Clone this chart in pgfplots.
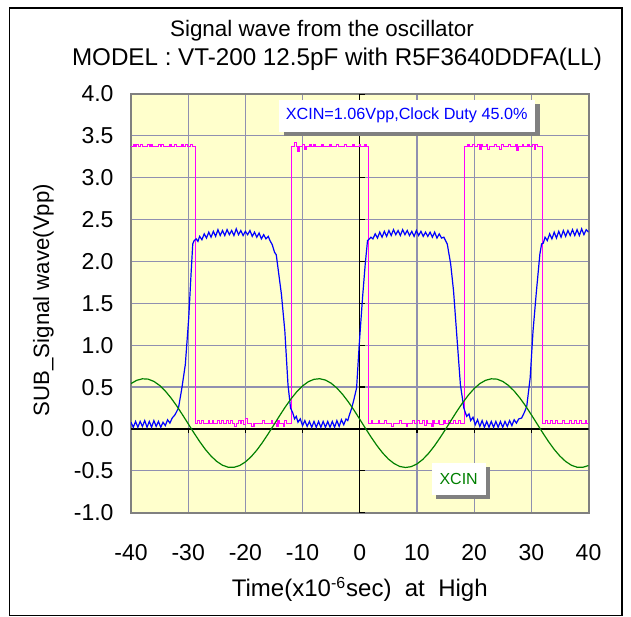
\documentclass[border=0pt]{standalone}
\usepackage{fontspec}
\setmainfont{Liberation Sans}
\usepackage{pgfplots}
\pgfplotsset{compat=1.18}
\definecolor{bgc}{HTML}{FFFFCC}
\definecolor{gridc}{HTML}{9090B0}
\definecolor{framec}{HTML}{808080}
\definecolor{shadowc}{HTML}{808080}
\definecolor{mag}{HTML}{FF00FF}
\definecolor{blu}{HTML}{0000FF}
\definecolor{grn}{HTML}{008000}
\begin{document}
\begin{tikzpicture}
\useasboundingbox (0,0) rectangle (315.5pt,308pt);
\draw[black, line width=0.6pt] (4.75pt,0.3pt) rectangle (311pt,304pt);
\node[anchor=base, font=\fontsize{11.2}{13}\selectfont] at (161pt,289.5pt) {Signal wave from the oscillator};
\node[anchor=base, font=\fontsize{12.1}{14}\selectfont] at (168.5pt,275pt) {MODEL : VT-200 12.5pF with R5F3640DDFA(LL)};
\begin{axis}[
  at={(65.5pt,51.65pt)}, anchor=south west,
  width=228.75pt, height=209.35pt, scale only axis,
  xmin=-40, xmax=40, ymin=-1, ymax=4,
  xtick={-40,-30,...,40}, ytick={-1,-0.5,...,4},
  grid=major, major grid style={color=gridc, line width=0.6pt},
  axis line style={draw=framec, line width=1pt},
  axis background/.style={fill=bgc},
  major tick length=0pt, tick style={draw=none},
  /pgf/number format/assume math mode=true,
  ticklabel style={font=\fontsize{11.5}{13}\selectfont},
  y tick label style={/pgf/number format/.cd, fixed, fixed zerofill, precision=1, /tikz/.cd, xshift=-5.2pt},
  x tick label style={yshift=-12.3pt},
  xlabel={Time(x10\textsuperscript{-6}sec)\ \ at\ \ High},
  xlabel style={at={(axis description cs:0.5,-0.2013)}, anchor=base, font=\fontsize{12}{14}\selectfont},
  ylabel={SUB\_Signal wave(Vpp)},
  ylabel style={at={(axis description cs:-0.179,0.508)}, anchor=base, font=\fontsize{11.1}{13}\selectfont},
  clip=true,
]
% zero lines with tick marks
\draw[black, line width=0.6pt] (axis cs:-40,0) -- (axis cs:40,0);
\draw[black, line width=0.6pt] (axis cs:0,-1) -- (axis cs:0,4);
\pgfplotsinvokeforeach{-30,-20,-10,10,20,30}{\draw[black, line width=0.6pt] (axis cs:#1,0) -- ++(0pt,-2.2pt);}
\pgfplotsinvokeforeach{-1,-0.5,0.5,1,1.5,2,2.5,3,3.5,4}{\draw[black, line width=0.6pt] (axis cs:0,#1) -- ++(2.5pt,0pt);}
% clock (magenta)
\addplot[mag, line width=0.55pt, const plot, mark=none] coordinates {
(-40.0,3.37)(-39.6,3.40)(-39.3,3.37)(-39.0,3.40)(-38.7,3.37)(-38.3,3.40)(-38.0,3.37)(-37.1,3.40)(-36.8,3.37)(-36.5,3.40)(-36.2,3.37)(-35.2,3.40)(-34.9,3.37)(-34.6,3.40)(-34.3,3.37)(-33.3,3.40)(-33.0,3.37)(-32.4,3.40)(-32.1,3.37)(-31.2,3.40)(-30.9,3.37)(-30.4,3.40)(-30.1,3.37)(-29.6,3.40)(-29.3,3.37)
(-28.8,0.07)(-28.3,0.10)(-28.0,0.07)(-27.6,0.10)(-27.3,0.07)(-26.5,0.10)(-26.2,0.07)(-25.8,0.10)(-25.5,0.07)(-24.9,0.10)(-24.6,0.07)(-24.2,0.10)(-23.9,0.07)(-23.3,0.10)(-23.0,0.07)(-22.6,0.10)(-22.3,0.07)(-21.9,0.03)(-21.6,0.07)(-21.2,0.10)(-20.9,0.07)(-20.6,0.10)(-20.3,0.05)(-20.0,0.12)(-19.7,0.07)(-19.0,0.03)(-18.5,0.06)(-17.0,0.10)(-16.7,0.06)(-15.5,0.10)(-15.2,0.06)(-14.6,0.03)(-14.3,0.10)(-14.0,0.06)(-13.4,0.03)(-13.1,0.10)(-12.8,0.06)
(-12.0,3.37)(-11.4,3.42)(-11.1,3.37)(-10.8,3.32)(-10.5,3.37)(-10.0,3.40)(-9.7,3.34)(-9.4,3.37)(-8.7,3.40)(-8.4,3.37)(-8.0,3.40)(-7.7,3.37)(-6.6,3.40)(-6.3,3.37)(-5.2,3.40)(-4.9,3.37)(-4.0,3.40)(-3.7,3.37)(-2.6,3.40)(-2.3,3.37)(-1.3,3.40)(-1.0,3.37)(-0.1,3.40)(0.2,3.37)(0.8,3.40)(1.1,3.37)
(1.5,0.07)(2.0,0.10)(2.3,0.07)(3.2,0.10)(3.5,0.07)(4.4,0.10)(4.7,0.07)(5.6,0.03)(5.9,0.07)(7.0,0.10)(7.3,0.07)(8.1,0.03)(8.4,0.07)(9.2,0.10)(9.5,0.07)(10.1,0.10)(10.4,0.07)(11.0,0.10)(11.3,0.04)(11.6,0.10)(11.9,0.07)(12.5,0.03)(12.8,0.10)(13.1,0.07)(13.7,0.10)(14.0,0.05)(14.6,0.10)(14.9,0.07)(15.5,0.10)(15.8,0.07)(16.4,0.10)(16.7,0.07)(17.3,0.10)(17.6,0.07)
(18.35,3.37)(18.8,3.40)(19.1,3.37)(19.7,3.40)(20.0,3.37)(20.6,3.40)(20.9,3.34)(21.2,3.40)(21.5,3.37)(22.1,3.40)(22.4,3.34)(22.7,3.37)(23.6,3.40)(23.9,3.37)(24.5,3.34)(24.8,3.40)(25.1,3.37)(26.0,3.40)(26.3,3.37)(27.2,3.40)(27.5,3.33)(27.8,3.37)(28.4,3.40)(28.7,3.37)(29.3,3.40)(29.6,3.37)(30.2,3.40)(30.5,3.34)(30.8,3.40)(31.1,3.37)
(31.9,0.07)(32.5,0.10)(32.8,0.07)(33.4,0.10)(33.7,0.07)(34.3,0.10)(34.6,0.07)(35.5,0.10)(35.8,0.07)(36.7,0.10)(37.0,0.07)(37.6,0.10)(37.9,0.07)(38.5,0.10)(38.8,0.07)(39.4,0.10)(39.7,0.07)(40.0,0.07)
};
% SUB signal (blue)
\addplot[blu, line width=0.6pt, mark=none] coordinates {
(-40.0,0.08)(-39.6,0.02)(-39.2,0.09)(-38.8,0.02)(-38.4,0.09)(-38.0,0.03)(-37.6,0.10)(-37.2,0.02)(-36.8,0.09)(-36.4,0.02)(-36.0,0.10)(-35.6,0.03)(-35.2,0.09)(-34.8,0.02)(-34.4,0.08)(-34.0,0.04)(-33.6,0.11)(-33.2,0.07)(-32.8,0.13)(-32.3,0.17)
(-31.7,0.25)(-31.1,0.49)(-30.5,0.77)(-29.9,1.33)(-29.5,1.85)(-29.2,2.21)(-28.95,2.25)(-28.6,2.27)(-28.3,2.24)(-28.0,2.30)(-27.6,2.26)(-27.2,2.33)(-26.8,2.28)(-26.4,2.35)(-26.0,2.29)(-25.6,2.36)(-25.2,2.30)(-24.8,2.38)(-24.4,2.31)(-24.0,2.37)(-23.6,2.31)(-23.2,2.38)(-22.8,2.32)(-22.4,2.37)(-22.0,2.31)(-21.6,2.39)(-21.2,2.32)(-20.8,2.37)(-20.4,2.31)(-20.0,2.36)(-19.6,2.32)(-19.2,2.37)(-18.8,2.30)(-18.4,2.35)(-18.0,2.29)(-17.6,2.34)(-17.2,2.27)(-16.8,2.32)(-16.4,2.27)(-16.0,2.30)
(-15.7,2.25)(-15.3,2.20)(-14.9,2.11)(-14.6,2.08)(-13.7,1.61)(-13.1,1.17)(-12.55,0.53)(-12.1,0.25)(-11.7,0.19)(-11.4,0.12)(-11.1,0.15)(-10.8,0.08)(-10.4,0.12)(-10.0,0.04)(-9.6,0.10)(-9.2,0.03)(-8.8,0.09)(-8.4,0.02)(-8.0,0.09)(-7.6,0.02)(-7.2,0.09)(-6.8,0.02)(-6.4,0.09)(-6.0,0.02)(-5.6,0.09)(-5.2,0.02)(-4.8,0.09)(-4.4,0.02)(-4.0,0.10)(-3.6,0.03)(-3.2,0.11)(-2.8,0.05)(-2.4,0.12)(-2.1,0.10)(-1.8,0.17)
(-1.4,0.25)(-0.96,0.37)(-0.55,0.49)(-0.09,1.01)(0.49,1.57)(0.96,1.97)(1.36,2.25)(1.7,2.27)(1.95,2.29)(2.3,2.27)(2.7,2.33)(3.1,2.28)(3.5,2.35)(3.9,2.29)(4.3,2.36)(4.7,2.30)(5.1,2.37)(5.5,2.31)(5.9,2.38)(6.3,2.32)(6.7,2.37)(7.1,2.31)(7.5,2.38)(7.9,2.32)(8.3,2.37)(8.7,2.31)(9.1,2.36)(9.5,2.30)(9.9,2.37)(10.3,2.31)(10.7,2.36)(11.1,2.30)(11.5,2.35)(11.9,2.30)(12.3,2.35)(12.7,2.29)(13.1,2.35)(13.5,2.28)(13.9,2.33)(14.3,2.28)(14.7,2.29)
(15.3,2.21)(15.9,1.97)(16.4,1.65)(17.0,1.09)(17.6,0.53)(18.2,0.25)(18.7,0.15)(19.1,0.18)(19.4,0.10)(19.8,0.14)(20.2,0.05)(20.6,0.11)(21.0,0.03)(21.4,0.10)(21.8,0.02)(22.2,0.09)(22.6,0.02)(23.0,0.09)(23.4,0.02)(23.8,0.09)(24.2,0.02)(24.6,0.09)(25.0,0.02)(25.4,0.09)(25.8,0.03)(26.2,0.10)(26.6,0.04)(27.0,0.11)(27.4,0.07)(27.8,0.12)(28.3,0.13)(28.8,0.20)
(29.2,0.27)(29.8,0.61)(30.3,1.17)(30.9,1.65)(31.5,2.09)(31.8,2.21)(32.1,2.22)(32.4,2.29)(32.8,2.25)(33.2,2.33)(33.6,2.27)(34.0,2.35)(34.4,2.28)(34.8,2.36)(35.2,2.29)(35.6,2.37)(36.0,2.30)(36.4,2.37)(36.8,2.31)(37.2,2.38)(37.6,2.31)(38.0,2.38)(38.4,2.31)(38.8,2.39)(39.2,2.32)(39.6,2.38)(40.0,2.35)
};
% XCIN (green)
\addplot[grn, line width=0.6pt, mark=none] coordinates {
(-40,0.542)(-39,0.581)(-38,0.599)(-37,0.595)(-36,0.568)(-35,0.520)(-34,0.453)(-33,0.370)(-32,0.275)(-31,0.170)(-30,0.062)(-29,-0.046)(-28,-0.150)(-27,-0.244)(-26,-0.324)(-25,-0.388)(-24,-0.433)(-23,-0.457)(-22,-0.458)(-21,-0.437)(-20,-0.394)(-19,-0.332)(-18,-0.253)(-17,-0.160)(-16,-0.057)(-15,0.051)(-14,0.160)(-13,0.265)(-12,0.361)(-11,0.446)(-10,0.514)(-9,0.564)(-8,0.593)(-7,0.600)(-6,0.584)(-5,0.546)(-4,0.489)(-3,0.413)(-2,0.324)(-1,0.224)
(0,0.116)(1,0.007)(2,-0.099)(3,-0.198)(4,-0.286)(5,-0.359)(6,-0.413)(7,-0.448)(8,-0.460)(9,-0.450)(10,-0.418)(11,-0.365)(12,-0.294)(13,-0.208)(14,-0.109)(15,-0.004)(16,0.105)(17,0.213)(18,0.314)(19,0.405)(20,0.482)(21,0.542)(22,0.581)(23,0.599)(24,0.595)(25,0.568)(26,0.520)(27,0.453)(28,0.370)(29,0.275)(30,0.170)(31,0.062)(32,-0.046)(33,-0.150)(34,-0.244)(35,-0.324)(36,-0.388)(37,-0.433)(38,-0.457)(39,-0.458)(40,-0.437)
};
% annotation boxes
\node[fill=shadowc, minimum width=128pt, minimum height=15.85pt, inner sep=0pt, xshift=2.5pt, yshift=-2pt] at (axis cs:8.2,3.74) {};
\node[fill=white, minimum width=128pt, minimum height=15.85pt, inner sep=0pt, text=blu, font=\fontsize{8.1}{9}\selectfont] at (axis cs:8.2,3.74) {XCIN=1.06Vpp,Clock Duty 45.0\%};
\node[fill=shadowc, minimum width=27.15pt, minimum height=16pt, inner sep=0pt, xshift=2pt, yshift=-2pt] at (axis cs:17.3,-0.597) {};
\node[fill=white, minimum width=27.15pt, minimum height=16pt, inner sep=0pt, text=grn, font=\fontsize{8}{9}\selectfont] at (axis cs:17.3,-0.597) {XCIN};
\end{axis}
\end{tikzpicture}
\end{document}
